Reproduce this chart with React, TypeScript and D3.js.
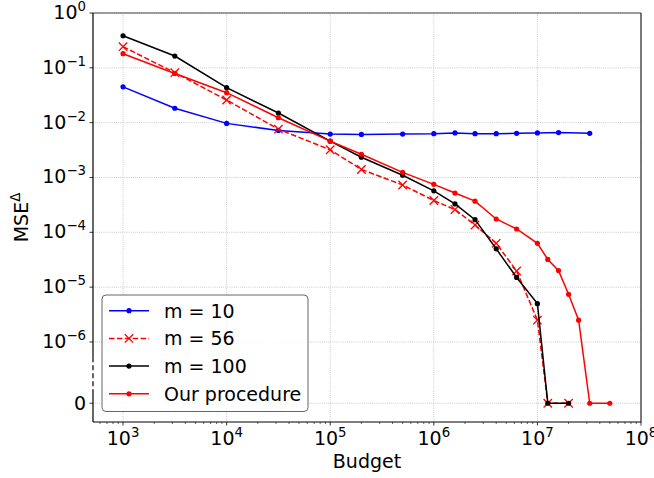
import React from "react";
import * as d3 from "d3";

// budgets per series
const budgetM10 = [1e3, 3.16e3, 1e4, 3.16e4, 1e5, 2e5, 5e5, 1e6, 1.6e6, 2.5e6, 4e6, 6.3e6, 1e7, 1.6e7, 3.2e7];
const budgetM = [1e3, 3.16e3, 1e4, 3.16e4, 1e5, 2e5, 5e5, 1e6, 1.6e6, 2.5e6, 4e6, 6.3e6, 1e7, 1.26e7, 2e7];
const budgetOurs = [1e3, 3.16e3, 1e4, 3.16e4, 1e5, 2e5, 5e5, 1e6, 1.6e6, 2.5e6, 4e6, 6.3e6, 1e7, 1.26e7, 1.6e7, 2e7, 2.5e7, 3.2e7, 5e7];

// MSE values (0 = exact)
const mseM10 = [0.045, 0.0183, 0.0097, 0.0072, 0.0062, 0.0061, 0.0062, 0.0063, 0.0065, 0.0063, 0.0063, 0.0064, 0.0065, 0.0066, 0.0064];
const mseM56 = [0.243, 0.0816, 0.0259, 0.0076, 0.0032, 0.0014, 0.00073, 0.00038, 0.00026, 0.000136, 6.3e-5, 1.97e-5, 2.5e-6, 0, 0];
const mseM100 = [0.385, 0.164, 0.0434, 0.015, 0.0046, 0.00234, 0.0011, 0.00057, 0.00033, 0.00017, 5e-5, 1.5e-5, 5e-6, 0, 0];
const mseOurs = [0.181, 0.079, 0.0352, 0.0123, 0.0046, 0.00265, 0.00124, 0.00075, 0.00052, 0.00037, 0.000175, 0.000115, 6.3e-5, 3.2e-5, 2.0e-5, 7.4e-6, 2.5e-6, 0, 0];

const xTickExp = [3, 4, 5, 6, 7, 8];
const yTickExp = [0, -1, -2, -3, -4, -5, -6];
const legendLabels = ["m = 10", "m = 56", "m = 100", "Our procedure"];

const W = 654, H = 478;
const margin = { top: 13, right: 13, bottom: 56, left: 93 };
const innerW = W - margin.left - margin.right;
const innerH = H - margin.top - margin.bottom;
const FONT = "DejaVu Sans, sans-serif";
const FS = 19;

const x = d3.scaleLog().domain([10 ** 2.71, 1e8]).range([0, innerW]);
const yLog = d3.scaleLog().domain([10 ** -7.46, 1]).range([innerH, 0]);
const ZERO_POS = 10 ** -7.118; // where "0" sits on the broken axis
const y = (v: number) => (v > 0 ? yLog(v) : yLog(ZERO_POS));

type Series = { xs: number[]; ys: number[]; color: string; dashed: boolean; marker: "dot" | "x" };
const series: Series[] = [
  { xs: budgetM10, ys: mseM10, color: "#0000ff", dashed: false, marker: "dot" },
  { xs: budgetM, ys: mseM56, color: "#ff0000", dashed: true, marker: "x" },
  { xs: budgetM, ys: mseM100, color: "#000000", dashed: false, marker: "dot" },
  { xs: budgetOurs, ys: mseOurs, color: "#ff0000", dashed: false, marker: "dot" },
];

function Marker({ cx, cy, s }: { cx: number; cy: number; s: Series }) {
  if (s.marker === "x") {
    const r = 4.2;
    return (
      <path d={`M${cx - r},${cy - r}L${cx + r},${cy + r}M${cx - r},${cy + r}L${cx + r},${cy - r}`}
        stroke={s.color} strokeWidth={1.3} fill="none" />
    );
  }
  return <circle cx={cx} cy={cy} r={2.6} fill={s.color} />;
}

export default function App() {
  const line = d3.line<[number, number]>().x(d => x(d[0])).y(d => y(d[1]));
  const minorX: number[] = [];
  for (let e = 2; e < 8; e++) for (let k = 2; k <= 9; k++) {
    const v = k * 10 ** e;
    if (v >= x.domain()[0] && v <= 1e8) minorX.push(v);
  }
  const yTicks = [...yTickExp.map(e => ({ v: 10 ** e, e })), { v: 0, e: null as number | null }];
  const grid = "#b0b0b0";
  const breakTop = y(10 ** -6.28);
  const breakBot = y(10 ** -6.93);

  return (
    <svg width={W} height={H} style={{ display: "block", position: "absolute", left: 0, top: 0 }} fontFamily={FONT}>
      <rect width={W} height={H} fill="#fff" />
      <g transform={`translate(${margin.left},${margin.top})`}>
        {/* grid */}
        {xTickExp.map(e => (
          <line key={"gx" + e} x1={x(10 ** e)} x2={x(10 ** e)} y1={0} y2={innerH}
            stroke={grid} strokeWidth={0.8} strokeDasharray="0.8,1.3" />
        ))}
        {yTicks.map(t => (
          <line key={"gy" + t.v} x1={0} x2={innerW} y1={y(t.v)} y2={y(t.v)}
            stroke={grid} strokeWidth={0.8} strokeDasharray="0.8,1.3" />
        ))}

        {/* series */}
        {series.map((s, i) => {
          const pts = s.xs.map((v, j) => [v, s.ys[j]] as [number, number]);
          return (
            <g key={i}>
              <path d={line(pts) || ""} fill="none" stroke={s.color} strokeWidth={1.5}
                strokeDasharray={s.dashed ? "5.5,2.4" : undefined} />
              {pts.map((p, j) => <Marker key={j} cx={x(p[0])} cy={y(p[1])} s={s} />)}
            </g>
          );
        })}

        {/* spines */}
        <line x1={0} x2={innerW} y1={0} y2={0} stroke="#444" strokeWidth={1} />
        <line x1={innerW} x2={innerW} y1={0} y2={innerH} stroke="#000" strokeWidth={1} />
        <line x1={0} x2={innerW} y1={innerH} y2={innerH} stroke="#000" strokeWidth={1} />
        <line x1={0} x2={0} y1={0} y2={breakTop} stroke="#000" strokeWidth={1.2} />
        <line x1={0} x2={0} y1={breakTop} y2={breakBot} stroke="#000" strokeWidth={1.2} strokeDasharray="5,3" />
        <line x1={0} x2={0} y1={breakBot} y2={innerH} stroke="#000" strokeWidth={1.2} />

        {/* x ticks */}
        {minorX.map(v => (
          <line key={"mx" + v} x1={x(v)} x2={x(v)} y1={innerH} y2={innerH + 2} stroke="#000" strokeWidth={0.6} />
        ))}
        {xTickExp.map(e => (
          <g key={"tx" + e} transform={`translate(${x(10 ** e)},${innerH})`}>
            <line y2={3.5} stroke="#000" strokeWidth={0.8} />
            <text y={23} textAnchor="middle" fontSize={FS} fill="#000">
              10<tspan fontSize={FS * 0.7} dy={-8}>{e}</tspan>
            </text>
          </g>
        ))}

        {/* y ticks */}
        {yTicks.map(t => (
          <g key={"ty" + t.v} transform={`translate(0,${y(t.v)})`}>
            <line x2={-3.5} stroke="#000" strokeWidth={0.8} />
            <text x={-7} dy={t.e === null ? 7 : 6} textAnchor="end" fontSize={FS} fill="#000">
              {t.e === null ? "0" : <>10<tspan fontSize={FS * 0.7} dy={-8}>{t.e === 0 ? "0" : "\u2212" + Math.abs(t.e)}</tspan></>}
            </text>
          </g>
        ))}

        {/* axis labels */}
        <text x={innerW / 2} y={innerH + 46} textAnchor="middle" fontSize={FS} fill="#000">Budget</text>
        <text transform={`translate(${-65},${innerH / 2}) rotate(-90)`} textAnchor="middle" fontSize={FS} fill="#000">
          MSE<tspan fontSize={FS * 0.7} dy={-8}>Δ</tspan>
        </text>

        {/* legend */}
        <g transform={`translate(9,282)`}>
          <rect x={0} y={0} width={206} height={116.5} rx={4} fill="#fff" fillOpacity={0.85} stroke="#666" strokeWidth={1} />
          {series.map((s, i) => {
            const cy = 15.7 + i * 27.7;
            return (
              <g key={"lg" + i}>
                <line x1={7} x2={47} y1={cy} y2={cy} stroke={s.color} strokeWidth={1.5}
                  strokeDasharray={s.dashed ? "5.5,2.4" : undefined} />
                <Marker cx={27} cy={cy} s={s} />
                <text x={62} y={cy + 7} fontSize={FS} fill="#000">{legendLabels[i]}</text>
              </g>
            );
          })}
        </g>
      </g>
    </svg>
  );
}
